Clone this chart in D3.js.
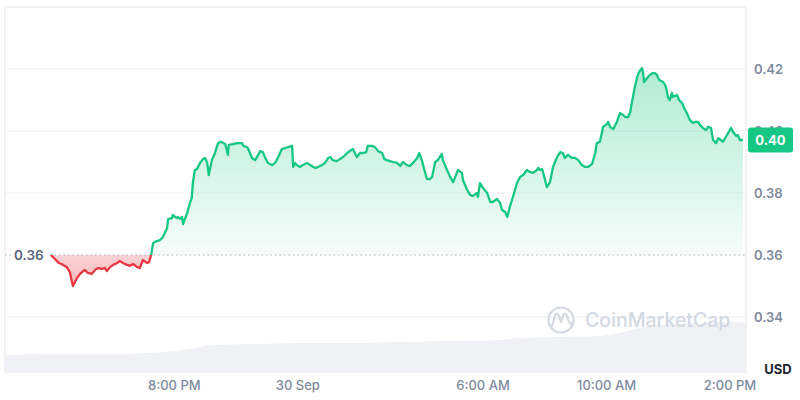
<!DOCTYPE html>
<html>
<head>
<meta charset="utf-8">
<script src="https://cdn.jsdelivr.net/npm/d3@7"></script>
<style>
  html, body { margin: 0; padding: 0; background: #ffffff; }
  svg { display: block; font-family: Inter, "Noto Sans", sans-serif; }
</style>
</head>
<body>
<svg id="chart" width="800" height="400"></svg>
<script>
// ---- data ----
const seriesStart = "2024-09-29T14:32:00";
const seriesEnd = "2024-09-30T14:32:00";
const baselineValue = 0.36;

const priceMinutes = [89,97,105,113,120,126,132,140,146,152,155,161,169,175,181,188,194,198,204,210,218,223,229,237,243,249,257,262,268,276,280,284,
288,295,301,307,315,317,325,326,334,336,340,344,346,354,360,363,365,369,373,379,385,389,393,396,402,408,414,420,424,428,431,433,435,443,451,457,461,463,470,472,480,486,492,496,501,505,511,519,525,531,538,544,550,558,560,564,567,573,579,587,593,599,604,608,616,622,628,632,637,645,651,657,665,670,676,680,684,690,696,702,705,713,719,725,733,737,742,748,754,762,768,773,781,787,793,801,805,810,816,820,826,830,836,841,849,851,859,865,871,878,880,888,890,898,904,909,917,919,923,929,937,943,948,956,962,966,972,976,981,987,995,1001,1007,1014,1020,1026,1034,1036,1040,1044,1046,1053,1059,1065,1073,1079,1084,1088,1094,1102,1108,1114,1121,1127,1133,1141,1147,1150,1156,1160,1162,1170,1172,1176,1182,1189,1195,1201,1205,1211,1215,1218,1224,1228,1232,1238,1240,1242,1248,1253,1259,1263,1267,1271,1279,1283,1286,1288,1292,1296,1298,1306,1310,1316,1319,1325,1331,1337,1341,1347,1351,1356,1362,1366,1372,1376,1382,1386,1391,1395,1403,1411,1415,1421,1424,1428,1434];

const priceValues = [0.3600,0.3587,0.3574,0.3568,0.3561,0.3545,0.3500,0.3526,0.3539,0.3548,0.3552,0.3542,0.3539,0.3552,0.3558,0.3555,0.3558,0.3548,0.3561,0.3568,0.3574,0.3581,0.3574,0.3568,0.3565,0.3571,0.3561,0.3558,0.3584,0.3574,0.3577,0.3600,
0.3639,0.3645,0.3648,0.3658,0.3687,0.3716,0.3719,0.3729,0.3719,0.3723,0.3716,0.3723,0.3700,0.3735,0.3771,0.3784,0.3832,0.3874,0.3877,0.3897,0.3910,0.3913,0.3897,0.3858,0.3906,0.3929,0.3961,0.3965,0.3961,0.3958,0.3939,0.3923,0.3955,0.3958,0.3961,0.3961,0.3961,0.3952,0.3948,0.3945,0.3913,0.3906,0.3923,0.3935,0.3932,0.3916,0.3897,0.3890,0.3897,0.3916,0.3942,0.3945,0.3948,0.3952,0.3884,0.3897,0.3890,0.3884,0.3890,0.3897,0.3890,0.3884,0.3881,0.3884,0.3890,0.3897,0.3913,0.3916,0.3906,0.3903,0.3910,0.3916,0.3929,0.3935,0.3942,0.3929,0.3916,0.3929,0.3929,0.3932,0.3952,0.3952,0.3948,0.3935,0.3929,0.3910,0.3906,0.3903,0.3900,0.3897,0.3887,0.3900,0.3890,0.3887,0.3897,0.3913,0.3929,0.3906,0.3868,0.3845,0.3845,0.3852,0.3900,0.3906,0.3926,0.3906,0.3874,0.3852,0.3835,0.3865,0.3874,0.3865,0.3842,0.3810,0.3794,0.3790,0.3800,0.3787,0.3832,0.3816,0.3800,0.3771,0.3771,0.3781,0.3768,0.3745,0.3739,0.3723,0.3755,0.3787,0.3832,0.3852,0.3858,0.3874,0.3868,0.3865,0.3874,0.3881,0.3874,0.3877,0.3865,0.3819,0.3835,0.3884,0.3916,0.3932,0.3929,0.3913,0.3923,0.3913,0.3913,0.3906,0.3890,0.3884,0.3884,0.3894,0.3929,0.3961,0.3965,0.3994,0.4013,0.4023,0.4029,0.4013,0.4006,0.4029,0.4058,0.4052,0.4045,0.4045,0.4061,0.4090,0.4142,0.4171,0.4190,0.4203,0.4187,0.4158,0.4171,0.4181,0.4187,0.4187,0.4181,0.4165,0.4158,0.4148,0.4132,0.4110,0.4100,0.4123,0.4110,0.4116,0.4100,0.4090,0.4077,0.4058,0.4035,0.4026,0.4029,0.4029,0.4019,0.4010,0.4003,0.4013,0.4010,0.3971,0.3961,0.3977,0.3971,0.3965,0.3987,0.4010,0.3997,0.3984,0.3987,0.3971,0.3971];

const volumeMinutes = [0,107,223,282,330,360,389,418,496,573,670,768,865,962,1001,1079,1156,1195,1234,1273,1351,1440];
const volumeValues = [3.4,3.6,3.6,3.8,4.2,4.6,5.2,5.4,5.6,5.8,5.8,6.0,6.2,6.4,6.8,7.0,7.2,7.8,8.8,9.4,9.8,10.0];
const volumeMax = 10;

const yTicks = [0.34, 0.36, 0.38, 0.40, 0.42];
const xTickTimes = ["2024-09-29T20:00:00","2024-09-30T00:00:00","2024-09-30T06:00:00","2024-09-30T10:00:00","2024-09-30T14:00:00"];
const xTickLabels = ["8:00 PM","30 Sep","6:00 AM","10:00 AM","2:00 PM"];
const currencyLabel = "USD";
const watermarkText = "CoinMarketCap";

// ---- setup ----
const svg = d3.select("#chart");
const W = 800, H = 400;
const plot = {left: 5, right: 746, top: 7, bottom: 372};
const t0 = new Date(seriesStart);
const toDate = m => new Date(t0.getTime() + m * 60000);

const x = d3.scaleTime().domain([new Date(seriesStart), new Date(seriesEnd)]).range([plot.left, plot.right]);
const y = d3.scaleLinear().domain([0.34, 0.42]).range([317, 69]);
const yVol = d3.scaleLinear().domain([0, volumeMax]).range([plot.bottom, 322]);

const price = priceMinutes.map((m, i) => ({t: toDate(m), v: priceValues[i]}));
const volume = volumeMinutes.map((m, i) => ({t: toDate(m), v: volumeValues[i]}));

const GREEN = "#16c784", RED = "#ea3943";
const defs = svg.append("defs");

const gG = defs.append("linearGradient").attr("id", "gGreen").attr("gradientUnits", "userSpaceOnUse")
  .attr("x1", 0).attr("x2", 0).attr("y1", y(0.42)).attr("y2", y(baselineValue));
gG.append("stop").attr("offset", 0).attr("stop-color", GREEN).attr("stop-opacity", 0.34);
gG.append("stop").attr("offset", 1).attr("stop-color", GREEN).attr("stop-opacity", 0.04);

const gR = defs.append("linearGradient").attr("id", "gRed").attr("gradientUnits", "userSpaceOnUse")
  .attr("x1", 0).attr("x2", 0).attr("y1", y(baselineValue)).attr("y2", y(0.35));
gR.append("stop").attr("offset", 0).attr("stop-color", RED).attr("stop-opacity", 0.22);
gR.append("stop").attr("offset", 1).attr("stop-color", RED).attr("stop-opacity", 0.36);

defs.append("clipPath").attr("id", "clipAbove").append("rect")
  .attr("x", 0).attr("y", 0).attr("width", W).attr("height", y(baselineValue));
defs.append("clipPath").attr("id", "clipBelow").append("rect")
  .attr("x", 0).attr("y", y(baselineValue)).attr("width", W).attr("height", H - y(baselineValue));

// frame
svg.append("rect").attr("x", plot.left).attr("y", plot.top)
  .attr("width", plot.right - plot.left).attr("height", plot.bottom - plot.top)
  .attr("fill", "none").attr("stroke", "#eceef1").attr("stroke-width", 1.5);

// gridlines
svg.append("g").selectAll("line").data(yTicks.filter(d => d !== baselineValue)).join("line")
  .attr("x1", plot.left).attr("x2", plot.right)
  .attr("y1", d => y(d)).attr("y2", d => y(d))
  .attr("stroke", "#eff1f4").attr("stroke-width", 1);

// volume
svg.append("path").datum(volume)
  .attr("d", d3.area().x(d => x(d.t)).y0(plot.bottom).y1(d => yVol(d.v)).curve(d3.curveMonotoneX))
  .attr("fill", "#eff1f4");

// watermark
const wm = svg.append("g").attr("fill", "none").attr("stroke", "#d3d8e1");
wm.append("circle").attr("cx", 561).attr("cy", 320).attr("r", 12.5).attr("stroke-width", 2.2);
wm.append("path").attr("d", "M552,326 L555,316 Q557,311 559,316 L561,322 L563,316 Q565,311 567,316 L569,322 Q570,325 572,323")
  .attr("stroke-width", 2.2).attr("stroke-linecap", "round").attr("stroke-linejoin", "round");
svg.append("text").attr("x", 585).attr("y", 327).text(watermarkText)
  .attr("font-size", 19.5).attr("font-weight", 500).attr("fill", "#d3d8e1");

// price areas
const area = d3.area().x(d => x(d.t)).y0(y(baselineValue)).y1(d => y(d.v));
const line = d3.line().x(d => x(d.t)).y(d => y(d.v));

svg.append("path").datum(price).attr("d", area).attr("fill", "url(#gGreen)").attr("clip-path", "url(#clipAbove)");
svg.append("path").datum(price).attr("d", area).attr("fill", "url(#gRed)").attr("clip-path", "url(#clipBelow)");

// baseline dotted
svg.append("line").attr("x1", plot.left).attr("x2", plot.right)
  .attr("y1", y(baselineValue)).attr("y2", y(baselineValue))
  .attr("stroke", "#a6b0c3").attr("stroke-width", 1).attr("stroke-dasharray", "1.5,3");

svg.append("path").datum(price).attr("d", line).attr("fill", "none").attr("stroke", GREEN)
  .attr("stroke-width", 2.3).attr("stroke-linejoin", "round").attr("clip-path", "url(#clipAbove)");
svg.append("path").datum(price).attr("d", line).attr("fill", "none").attr("stroke", RED)
  .attr("stroke-width", 2.3).attr("stroke-linejoin", "round").attr("clip-path", "url(#clipBelow)");

// left baseline label
svg.append("rect").attr("x", 12).attr("y", y(baselineValue) - 9).attr("width", 37).attr("height", 18).attr("fill", "#fff");
svg.append("text").attr("x", 14).attr("y", y(baselineValue) + 5).text(d3.format(".2f")(baselineValue))
  .attr("font-size", 13.5).attr("font-weight", 600).attr("fill", "#58667e");

// right axis
const yAxis = d3.axisRight(y).tickValues(yTicks).tickFormat(d3.format(".2f")).tickSize(0).tickPadding(0);
const ya = svg.append("g").attr("transform", `translate(754,0)`).call(yAxis);
ya.select(".domain").remove();
ya.selectAll("text").attr("font-size", 13).attr("font-weight", 600).attr("fill", "#808a9d")
  .attr("font-family", "Inter, sans-serif");

// last price label
const last = price[price.length - 1];
svg.append("rect").attr("x", 748).attr("y", y(last.v) - 12.5).attr("width", 45).attr("height", 25)
  .attr("rx", 3).attr("fill", GREEN);
svg.append("text").attr("x", 770.5).attr("y", y(last.v) + 5).attr("text-anchor", "middle")
  .text(d3.format(".2f")(last.v)).attr("font-size", 13).attr("font-weight", 700).attr("fill", "#fff");

// x axis
const xAxis = d3.axisBottom(x).tickValues(xTickTimes.map(s => new Date(s)))
  .tickFormat((d, i) => xTickLabels[i]).tickSize(0).tickPadding(0);
const xa = svg.append("g").attr("transform", `translate(0,381)`).call(xAxis);
xa.select(".domain").remove();
xa.selectAll("text").attr("font-size", 13).attr("font-weight", 500).attr("fill", "#808a9d")
  .attr("font-family", "Inter, sans-serif");

// currency label
svg.append("text").attr("x", 778).attr("y", 374).attr("text-anchor", "middle").text(currencyLabel)
  .attr("font-size", 13).attr("font-weight", 700).attr("fill", "#222531");
</script>
</body>
</html>
